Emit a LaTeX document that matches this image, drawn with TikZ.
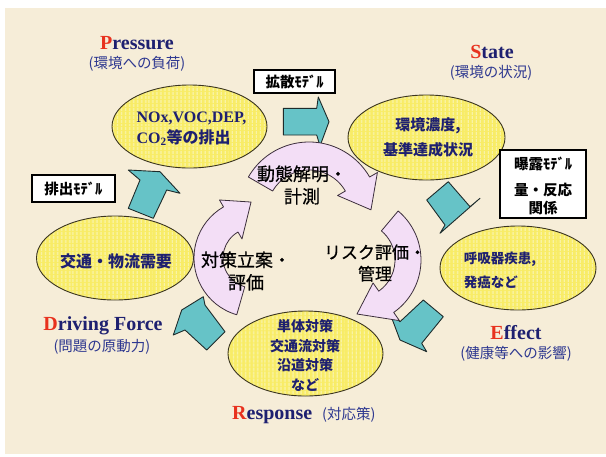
\documentclass[tikz,border=0pt]{standalone}
\usepackage{fontspec}
\setmainfont{Liberation Serif}
\newfontfamily\jp{Noto Sans CJK JP}
\newfontfamily\jpm{Noto Sans CJK JP}[FakeBold=0.6]
\usetikzlibrary{shapes.geometric,calc,patterns.meta}
\definecolor{bgc}{HTML}{F6EDD8}
\definecolor{ylw}{HTML}{F8EC66}
\definecolor{ylwl}{HTML}{F9F3A6}
\definecolor{elc}{HTML}{3A3420}
\definecolor{tealc}{HTML}{66C3C7}
\definecolor{tdark}{HTML}{1E2B2B}
\definecolor{pinkc}{HTML}{F3DEF6}
\definecolor{pdark}{HTML}{3C2E3C}
\definecolor{navy}{HTML}{1E2070}
\definecolor{bluet}{HTML}{2E3890}
\definecolor{redc}{HTML}{E8321E}
\tikzset{
 ell/.style={ellipse, fill=ylw, inner sep=0pt,
   postaction={pattern={Lines[angle=90,distance=4pt,line width=1.5pt]}, pattern color=ylwl},
   postaction={draw=elc, line width=0.9pt}},
 mbox/.style={draw=black, line width=1.1pt, fill=white, inner sep=0pt},
 tealarrow/.style={fill=tealc, draw=tdark, line width=0.9pt, line join=round},
 pinkarrow/.style={fill=pinkc, draw=pdark, line width=0.8pt, line join=round},
 ttl/.style={font=\bfseries\fontsize{20}{22}\selectfont, text=navy, inner sep=0pt},
 subt/.style={font=\jp\fontsize{14.5}{16}\selectfont, text=bluet, inner sep=0pt},
 ctr/.style={font=\jpm\fontsize{18}{22.5}\selectfont, align=center, text=black, inner sep=0pt},
 etext/.style={font=\jp\bfseries\fontsize{14}{20}\selectfont, text=navy, inner sep=0pt},
 btext/.style={font=\jp\bfseries\fontsize{14.5}{18}\selectfont, text=black, align=center, inner sep=0pt}
}
\newcommand\pinkarc[9]{%
 \pgfmathsetmacro\rwo{#3+#7}\pgfmathsetmacro\rwi{#4-#7}%
 \filldraw[pinkarrow] ($(#1,#2)+(#5:#3)$) arc[start angle=#5, end angle=#6, radius=#3]
  -- ($(#1,#2)+(#6:\rwo)$) -- ($(#1,#2)+(#8:#9)$) -- ($(#1,#2)+(#6:\rwi)$)
  -- ($(#1,#2)+(#6:#4)$) arc[start angle=#6, end angle=#5, radius=#4] -- cycle;}
\begin{document}
\begin{tikzpicture}[x=1pt,y=-1pt]
\useasboundingbox (0,0) rectangle (606,456);
\fill[white] (0,0) rectangle (606,456);
\fill[bgc] (5,8) rectangle (606,454);

% titles
\node[ttl] (tP) at (137,43) {\textcolor{redc}{P}ressure};
\node[subt] (sP) at (137,64) {(環境への負荷)};
\node[ttl] (tS) at (492,52) {\textcolor{redc}{S}tate};
\node[subt] (sS) at (491,73) {(環境の状況)};
\node[ttl] (tE) at (516,333) {\textcolor{redc}{E}ffect};
\node[subt] (sE) at (516,354) {(健康等への影響)};
\node[ttl] (tD) at (103,326) {\textcolor{redc}{D}riving Force};
\node[subt] (sD) at (102,347) {(問題の原動力)};
\node[ttl, anchor=west] (tR) at (232,415) {\textcolor{redc}{R}esponse};
\node[subt, anchor=west] (sR) at (322,415) {(対応策)};

% ellipses
\node[ell, minimum width=155pt, minimum height=83pt] (P) at (189.5,126.5) {};
\node[ell, minimum width=157pt, minimum height=85pt] (S) at (426.5,137.5) {};
\node[ell, minimum width=156pt, minimum height=84pt] (E) at (518,268) {};
\node[ell, minimum width=155pt, minimum height=85pt] (R) at (305.5,353.5) {};
\node[ell, minimum width=157pt, minimum height=84pt] (D) at (115,258) {};

\node[etext, align=left, font=\bfseries\fontsize{16}{21}\selectfont] (Ptx) at (191.5,128.5) {NOx,VOC,DEP,\\CO\textsubscript{2}{\jp 等の排出}};
\node[etext, align=center, font=\jp\bfseries\fontsize{15}{25}\selectfont] (Stx) at (428,137.5) {環境濃度,\\基準達成状況};
\node[etext, align=left, font=\jp\bfseries\fontsize{13.5}{24}\selectfont] (Etx) at (500,270) {呼吸器疾患,\\発癌など};
\node[etext, align=center, font=\jp\bfseries\fontsize{14}{19.7}\selectfont] (Rtx) at (305,355.5) {単体対策\\交通流対策\\沿道対策\\など};
\node[etext, font=\jp\bfseries\fontsize{16}{20}\selectfont] (Dtx) at (116,261) {交通・物流需要};

% model boxes
\node[mbox, minimum width=81pt, minimum height=23pt] (m1) at (294.5,81.5) {};
\node[btext] at (m1) {拡散ﾓﾃﾞﾙ};
\node[mbox, minimum width=83pt, minimum height=27pt] (m2) at (73.5,188.5) {};
\node[btext] at (m2) {排出ﾓﾃﾞﾙ};
\node[mbox, minimum width=86pt, minimum height=68pt] (m3) at (543,184) {};
\node[btext, font=\jp\bfseries\fontsize{14.5}{18}\selectfont] at (543,186) {曝露ﾓﾃﾞﾙ\\[8pt]量・反応\\関係};

% teal block arrows
\filldraw[tealarrow] (283.3,108.3) -- (316.7,108.3) -- (318.3,97) -- (329,121.7) -- (320,146) -- (316.7,135) -- (283.3,135) -- cycle;
\filldraw[tealarrow] (426.7,200) -- (448.3,181.7) -- (470,206.7) -- (480,198.3) -- (440,233.3) -- (445,225) -- cycle;
\filldraw[tealarrow] (423.3,300) -- (443.3,316.7) -- (421.7,343.3) -- (426.7,351.7) -- (400,340) -- (390,313.3) -- (400,321.7) -- cycle;
\filldraw[tealarrow] (181.7,310) -- (203.3,296.7) -- (205,305) -- (225,331.7) -- (206.7,350) -- (185,330) -- (173.3,335) -- cycle;
\filldraw[tealarrow] (128.3,170) -- (160,171.7) -- (180,193.3) -- (166.7,190) -- (153.3,218.3) -- (128.3,208.3) -- (140,180) -- cycle;

% pink curved arrows
\pinkarc{309}{212}{70}{42}{210}{330}{9}{358}{62}
\pinkarc{357}{260}{64}{38}{310}{415}{10}{450}{54}
\pinkarc{253}{258}{59}{30}{106}{240}{8}{268}{56}

% centre labels
\node[ctr] (c1) at (302,185) {動態解明・\\計測};
\node[ctr] (c2) at (246,271) {対策立案・\\評価};
\node[ctr, font=\jpm\fontsize{17}{21.5}\selectfont] (c3) at (375,263) {リスク評価・\\管理};
\end{tikzpicture}
\end{document}
